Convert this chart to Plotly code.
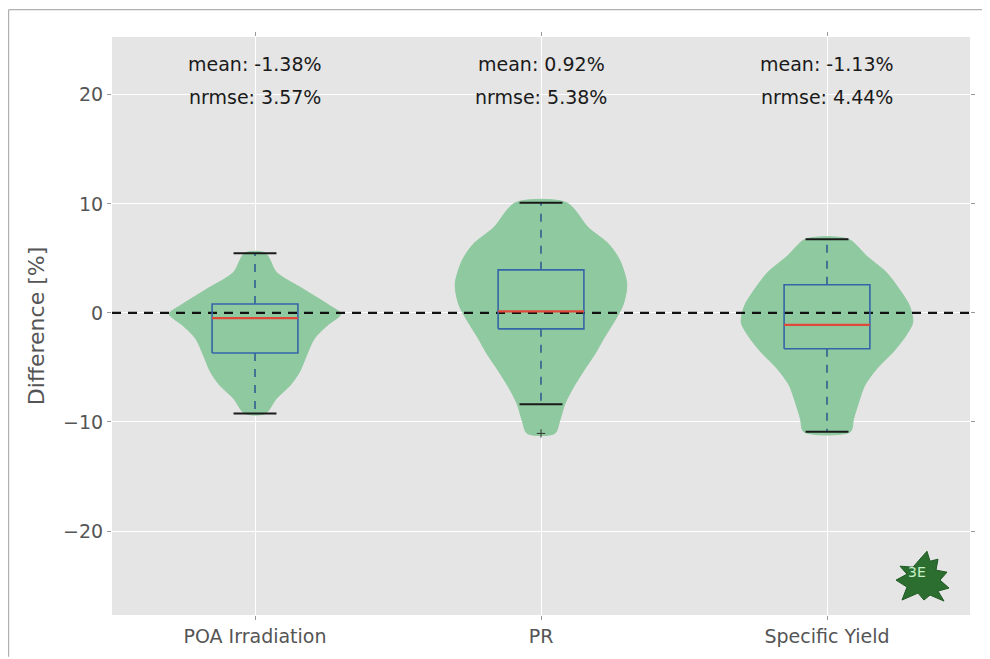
import plotly.graph_objects as go

# ---------------- data ----------------
categories = ["POA Irradiation", "PR", "Specific Yield"]
mean_pct = [-1.38, 0.92, -1.13]
nrmse_pct = [3.57, 5.38, 4.44]

# box-plot statistics (percent)
q1 = [-3.68, -1.46, -3.29]
median = [-0.48, 0.15, -1.10]
q3 = [0.82, 3.95, 2.58]
whisker_low = [-9.22, -8.37, -10.90]
whisker_high = [5.48, 10.10, 6.76]
fliers = [[], [-11.05], []]

# violin profiles: levels (percent) and relative density (0..1)
poa_levels = [5.48, 3.72, 2.19, 0.67, -0.09, -1.16, -2.37, -3.90, -5.39, -6.64, -7.85, -9.22]
poa_density = [0.12, 0.25, 0.56, 0.87, 1.00, 0.84, 0.69, 0.60, 0.52, 0.41, 0.25, 0.12]
pr_levels = [10.10, 7.83, 6.30, 4.78, 2.65, 0.82, -0.70, -2.22, -3.74, -5.27, -6.78, -8.31, -9.84, -11.05]
pr_density = [0.30, 0.55, 0.79, 0.92, 1.00, 0.96, 0.86, 0.74, 0.63, 0.50, 0.38, 0.28, 0.22, 0.16]
sy_levels = [6.76, 5.23, 3.72, 2.19, 0.67, -0.85, -2.07, -3.59, -5.11, -6.64, -8.16, -9.68, -10.90]
sy_density = [0.25, 0.46, 0.69, 0.84, 0.96, 1.00, 0.92, 0.77, 0.58, 0.44, 0.37, 0.31, 0.27]

violin_levels = [poa_levels, pr_levels, sy_levels]
violin_density = [poa_density, pr_density, sy_density]

y_ticks = [-20, -10, 0, 10, 20]

# ---------------- style ----------------
FONT = "DejaVu Sans"
VIOLIN_HALF = 0.30
BOX_HALF = 0.15
CAP_HALF = 0.075
VIOLIN_COLOR = "rgb(143,201,160)"
BOX_COLOR = "#3565a8"
WHISK_COLOR = "#2f5f90"
MED_COLOR = "#e0483a"

fig = go.Figure()
positions = [i + 1 for i in range(len(categories))]

for i, pos in enumerate(positions):
    lv = violin_levels[i]
    dn = violin_density[i]
    xs = [pos + VIOLIN_HALF * d for d in dn] + [pos - VIOLIN_HALF * d for d in dn[::-1]]
    ys = list(lv) + list(lv[::-1])
    xs.append(xs[0]); ys.append(ys[0])
    fig.add_trace(go.Scatter(x=xs, y=ys, mode="lines", fill="toself",
                             fillcolor=VIOLIN_COLOR, line=dict(color=VIOLIN_COLOR, width=1, shape="spline", smoothing=0.8),
                             hoverinfo="skip", showlegend=False))

# zero reference line
fig.add_trace(go.Scatter(x=[0.5, 3.5], y=[0, 0], mode="lines",
                         line=dict(color="#111111", width=2.2, dash="9px,7px"),
                         hoverinfo="skip", showlegend=False))

for i, pos in enumerate(positions):
    # whiskers
    fig.add_trace(go.Scatter(x=[pos, pos], y=[q3[i], whisker_high[i]], mode="lines",
                             line=dict(color=WHISK_COLOR, width=1.6, dash="8px,8px"),
                             hoverinfo="skip", showlegend=False))
    fig.add_trace(go.Scatter(x=[pos, pos], y=[q1[i], whisker_low[i]], mode="lines",
                             line=dict(color=WHISK_COLOR, width=1.6, dash="8px,8px"),
                             hoverinfo="skip", showlegend=False))
    # caps
    for wv in (whisker_low[i], whisker_high[i]):
        fig.add_trace(go.Scatter(x=[pos - CAP_HALF, pos + CAP_HALF], y=[wv, wv], mode="lines",
                                 line=dict(color="#1a1a1a", width=2),
                                 hoverinfo="skip", showlegend=False))
    # box
    fig.add_trace(go.Scatter(x=[pos - BOX_HALF, pos + BOX_HALF, pos + BOX_HALF, pos - BOX_HALF, pos - BOX_HALF],
                             y=[q1[i], q1[i], q3[i], q3[i], q1[i]], mode="lines",
                             line=dict(color=BOX_COLOR, width=1.6),
                             hoverinfo="skip", showlegend=False))
    # median
    fig.add_trace(go.Scatter(x=[pos - BOX_HALF, pos + BOX_HALF], y=[median[i], median[i]], mode="lines",
                             line=dict(color=MED_COLOR, width=2.2),
                             hoverinfo="skip", showlegend=False))
    # fliers
    if fliers[i]:
        fig.add_trace(go.Scatter(x=[pos] * len(fliers[i]), y=fliers[i], mode="markers",
                                 marker=dict(symbol="cross-thin", size=6, line=dict(color="#333333", width=1)),
                                 hoverinfo="skip", showlegend=False))
    # annotations
    fig.add_annotation(x=pos, y=22.8, text=f"mean: {mean_pct[i]:.2f}%", showarrow=False,
                       font=dict(family=FONT, size=19, color="#1a1a1a"))
    fig.add_annotation(x=pos, y=19.8, text=f"nrmse: {nrmse_pct[i]:.2f}%", showarrow=False,
                       font=dict(family=FONT, size=19, color="#1a1a1a"))

# page geometry (the page body adds an 8px offset)
OFF = 8
W, H = 990 - OFF, 659 - OFF
PLOT_L, PLOT_T, PLOT_R, PLOT_B = 112, 37, 970, 617   # page pixels
L, T = PLOT_L - OFF, PLOT_T - OFF
R, B = W + OFF - PLOT_R, H + OFF - PLOT_B
PW, PH = PLOT_R - PLOT_L, PLOT_B - PLOT_T
def px(x):
    return (x - PLOT_L) / PW
def py(y):
    return (PLOT_B - y) / PH

# outer frame (top and left edges of a cropped border)
fig.add_shape(type="line", xref="paper", yref="paper", x0=px(8.6), y0=py(9.6), x1=px(990), y1=py(9.6),
              line=dict(color="#b0b0b0", width=1.2), layer="below")
fig.add_shape(type="line", xref="paper", yref="paper", x0=px(8.6), y0=py(9.6), x1=px(8.6), y1=py(659),
              line=dict(color="#b0b0b0", width=1.2), layer="below")

# logo (leaf with "3E")
leaf = [(5, -27), (8, -17), (16, -19), (14, -8), (25, -6), (18, 2), (27, 10), (16, 13), (22, 23),
        (8, 17), (2, 22), (-4, 15), (-20, 22), (-15, 9), (-26, 2), (-15, -4), (-22, -12), (-9, -11), (-3, -18)]
cx, cy = 922, 580
path = "M " + " L ".join(f"{px(cx + dx):.5f},{py(cy + dy):.5f}" for dx, dy in leaf) + " Z"
fig.add_shape(type="path", xref="paper", yref="paper", path=path,
              fillcolor="#2c6e2f", line=dict(color="#1f5a23", width=1))
fig.add_annotation(xref="paper", yref="paper", x=px(928), y=py(584), text="3E", showarrow=False,
                   font=dict(family=FONT, size=14, color="#c8f0c8"))

fig.update_layout(
    width=W, height=H,
    margin=dict(l=L, r=R, t=T, b=B),
    paper_bgcolor="white",
    plot_bgcolor="#e5e5e5",
    font=dict(family=FONT, size=19, color="#555555"),
    showlegend=False,
    xaxis=dict(range=[0.5, 3.5], tickvals=positions, ticktext=categories,
               showgrid=True, gridcolor="white", gridwidth=1.2, zeroline=False,
               ticks="outside", ticklen=4, tickcolor="#999999", mirror="ticks",
               tickfont=dict(family=FONT, size=19, color="#555555"), showline=False),
    yaxis=dict(range=[-27.7, 25.3], tickvals=y_ticks,
               showgrid=True, gridcolor="white", gridwidth=1.2, zeroline=False,
               ticks="outside", ticklen=4, tickcolor="#999999", mirror="ticks",
               tickfont=dict(family=FONT, size=19, color="#555555"), showline=False,
               title=dict(text="Difference [%]", font=dict(family=FONT, size=22, color="#555555"), standoff=12)),
)

fig.write_html("out.html")
